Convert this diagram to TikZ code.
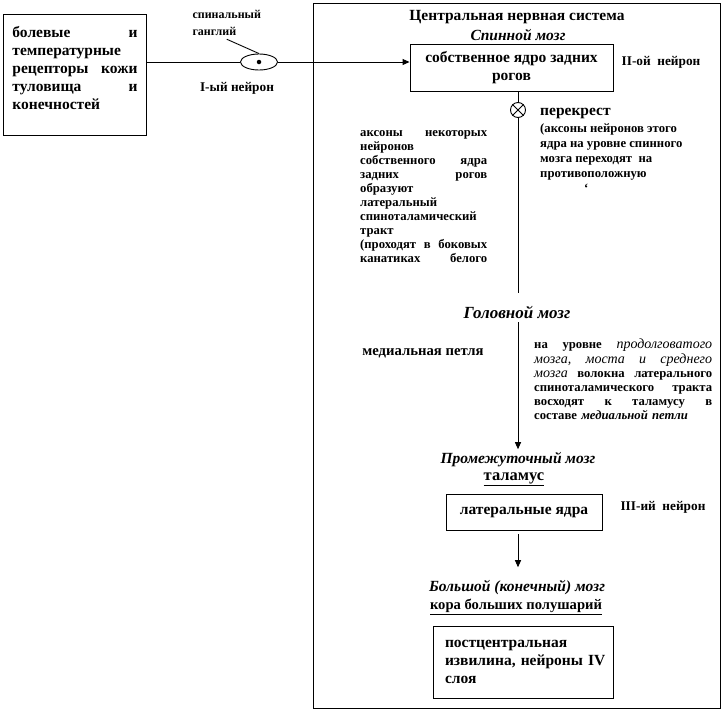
\documentclass[tikz,border=0pt]{standalone}
\usepackage{fontspec}
\setmainfont{Liberation Serif}
\usetikzlibrary{arrows.meta,positioning,shapes.geometric}
\tikzset{
  >={Triangle[length=7pt,width=6pt]},
  big/.style={font=\fontsize{15.5}{18}\selectfont\bfseries},
  head/.style={font=\fontsize{15.5}{18.5}\selectfont\bfseries\itshape},
  mid/.style={font=\fontsize{14.7}{15}\selectfont\bfseries},
  tag/.style={font=\fontsize{12.7}{14}\selectfont\bfseries,align=left},
  neuron/.style={font=\fontsize{13.3}{15}\selectfont\bfseries},
  box/.style={draw,line width=0.9pt,align=center,big},
  flow/.style={->,line width=0.9pt},
  link/.style={line width=0.9pt},
}
\newcommand\itbig[1]{{\fontsize{14}{14}\selectfont\mdseries\itshape #1}}
\begin{document}
\begin{tikzpicture}[x=1pt,y=-1pt]
  \useasboundingbox (0,0) rectangle (726,713);
  \node[box,text width=125pt,align=left,anchor=north west,inner xsep=9pt,inner ysep=12pt,text depth=86pt] (recep) at (3,14)
    {болевые\hfill и\\температурные\\рецепторы\hfill кожи\\туловища\hfill и\\конечностей};
  \node[draw,ellipse,line width=0.9pt,minimum width=37pt,minimum height=16pt,inner sep=0pt] (gang) at (259,62) {};
  \node[circle,fill,inner sep=0pt,minimum size=4.5pt] (gdot) at (gang) {};
  \node[font=\fontsize{12}{17}\selectfont\bfseries,align=left,anchor=west] (glab) at (189,23) {спинальный\\ганглий};
  \draw[link] (glab.south) -- (gang.north);
  \node[neuron] (n1) at (237,88) {I-ый нейрон};
  \draw[link] (recep.east |- gang.west) -- (gang.west);
  % spinal cord
  \node[draw,line width=0.9pt,minimum width=407pt,minimum height=705pt] (cns) at (517,355.5) {};
  \node[big] (title) at (517,17) {Центральная нервная система};
  \node[head] (spinal) at (518,35) {Спинной мозг};
  \node[box,minimum width=203pt,minimum height=47pt] (nucl) at (511.5,68) {собственное ядро задних\\рогов};
  \draw[flow] (gang.east) -- (gang.east -| nucl.west);
  \node[neuron] (n2) at (661,62) {II-ой\ \ нейрон};
  \node[circle,draw,line width=0.9pt,minimum size=15pt,inner sep=0pt] (chi) at (518,110) {};
  \draw[link] (chi |- nucl.south) -- (chi.north);
  \draw[link] (chi.north west) -- (chi.south east) (chi.north east) -- (chi.south west);
  \coordinate (tractend) at (518,293);
  \draw[link] (chi.south) -- (tractend);
  \node[big,anchor=west,inner sep=0pt] (xlab) at (540,113) {перекрест};
  \node[tag,anchor=north west,inner sep=0pt,font=\fontsize{12.7}{15}\selectfont\bfseries] (xtext) at (540,123)
    {(аксоны нейронов этого\\ядра на уровне спинного\\мозга переходят\ \ на\\противоположную\\\hspace*{44pt}`};
  \node[tag,text width=127pt,anchor=north west,inner sep=0pt] (latt) at (360,130)
    {аксоны\hfill некоторых\\нейронов\\собственного\hfill ядра\\задних\hfill рогов\\образуют\\латеральный\\спиноталамический\\тракт\\(проходят\hfill в\hfill боковых\\канатиках\hfill белого};
  % brain stem
  \node[head,font=\fontsize{17}{18.5}\selectfont\bfseries\itshape] (brain) at (517,312) {Головной мозг};
  \coordinate (loopstart) at (518,322);
  \node[mid] (mloop) at (423,353) {медиальная петля};
  \node[tag,text width=178pt,anchor=north west,inner sep=0pt,font=\fontsize{12.7}{14.2}\selectfont\bfseries] (lvl) at (534,339)
    {на\hfill уровне\hfill \itbig{продолговатого}\\
     \itbig{мозга,\hfill моста\hfill и\hfill среднего}\\
     \itbig{мозга}\hfill волокна\hfill латерального\\
     спиноталамического\hfill тракта\\
     восходят\hfill к\hfill таламусу\hfill в\\
     составе \textit{медиальной петли}};
  % thalamus
  \node[head] (dien) at (518,460) {Промежуточный мозг};
  \draw[flow] (loopstart) -- (loopstart |- dien.north);
  \node[big,font=\fontsize{16.5}{18}\selectfont\bfseries] (thal) at (514,479) {\underline{таламус}};
  \node[box,minimum width=156pt,minimum height=36pt] (lat) at (524,512) {латеральные ядра};
  \node[neuron] (n3) at (663,507) {III-ий\ \ нейрон};
  % cortex
  \node[head] (tel) at (517,588) {Большой (конечный) мозг};
  \draw[flow,shorten >=10pt] ([yshift=-4pt]lat.south -| loopstart) -- (loopstart |- tel.north);
  \node[big,font=\fontsize{14.6}{18}\selectfont\bfseries] (cortex) at (516,607) {\underline{кора больших полушарий}};
  \node[box,text width=156pt,align=left,minimum height=72pt,inner xsep=12pt] (post) at (523,662)
    {постцентральная\\извилина,~нейроны~IV\\слоя};
\end{tikzpicture}
\end{document}
